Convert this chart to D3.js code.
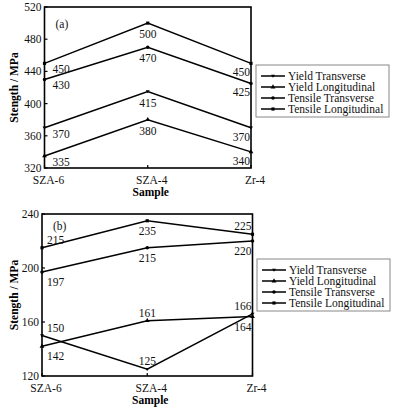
<!DOCTYPE html>
<html>
<head>
<meta charset="utf-8">
<script src="https://cdn.jsdelivr.net/npm/d3@7"></script>
<style>
  body { margin: 0; background: #fff; }
  svg { display: block; }
  .frame { fill: none; stroke: #000; stroke-width: 1.6; }
  .series { fill: none; stroke: #000; stroke-width: 1.5; }
  .tick-label { font-size: 11.5px; fill: #111; }
  .val { font-size: 11.5px; fill: #111; }
  .axis-title { font-size: 11.5px; font-weight: bold; fill: #000; }
  .legend-box { fill: #fff; stroke: #888; stroke-width: 1; }
  .legend-text { font-size: 11.5px; fill: #111; }
</style>
</head>
<body>
<div id="chart"></div>
<script>
// categories
const samples = ['SZA-6', 'SZA-4', 'Zr-4'];
const seriesNames = ['Yield Transverse', 'Yield Longitudinal', 'Tensile Transverse', 'Tensile Longitudinal'];
const seriesSymbols = ['triangleDown', 'triangle', 'circle', 'square'];

// panel (a) values, MPa
const aYieldT = [370, 415, 370];
const aYieldL = [335, 380, 340];
const aTensileT = [430, 470, 425];
const aTensileL = [450, 500, 450];
const aTicks = [320, 360, 400, 440, 480, 520];

// panel (b) values, MPa
const bYieldT = [150, 125, 166];
const bYieldL = [142, 161, 164];
const bTensileT = [197, 215, 220];
const bTensileL = [215, 235, 225];
const bTicks = [120, 160, 200, 240];

// where the value labels sit (above / below each point)
const aLabelSide = [
  ['b', 'b', 'b'], ['b', 'b', 'b'], ['b', 'b', 'b'], ['b', 'b', 'b']
];
const bLabelSide = [
  ['a', 'a', 'a'], ['b', 'a', 'b'], ['b', 'b', 'b'], ['a', 'b', 'a']
];

const W = 395, H = 412;
const svg = d3.select('#chart').append('svg')
  .attr('width', W).attr('height', H)
  .attr('font-family', "'Liberation Serif', 'Times New Roman', Times, serif");

// custom down triangle
const triDown = {
  draw(ctx, size) {
    const r = Math.sqrt(size) * 0.62;
    ctx.moveTo(-r, -r * 0.6);
    ctx.lineTo(r, -r * 0.6);
    ctx.lineTo(0, r * 0.9);
    ctx.closePath();
  }
};
const symbolFor = name => ({
  triangleDown: triDown,
  triangle: d3.symbolTriangle,
  circle: d3.symbolCircle,
  square: d3.symbolSquare,
}[name]);

function drawPanel(cfg) {
  const g = svg.append('g');
  const x = d3.scalePoint().domain(samples).range([cfg.left, cfg.right]).padding(0);
  const y = d3.scaleLinear().domain(d3.extent(cfg.ticks)).range([cfg.bottom, cfg.top]);

  // lines
  const line = d3.line().x((d, i) => x(samples[i])).y(d => y(d));
  cfg.series.forEach((vals, s) => {
    g.append('path').attr('class', 'series').attr('d', line(vals));
    g.selectAll(null).data(vals).join('path')
      .attr('transform', (d, i) => `translate(${x(samples[i])},${y(d)})`)
      .attr('d', d3.symbol().type(symbolFor(seriesSymbols[s])).size(10));

    g.selectAll(null).data(vals).join('text')
      .attr('class', 'val')
      .attr('x', (d, i) => x(samples[i]) + (i === 0 ? cfg.firstDx : i === 2 ? -1 : 0))
      .attr('y', (d, i) => y(d) + (cfg.sides[s][i] === 'a' ? -4 : cfg.belowDy[i]))
      .attr('text-anchor', (d, i) => (i === 0 ? 'start' : i === 2 ? 'end' : 'middle'))
      .text(d => d);
  });

  // frame
  g.append('rect').attr('class', 'frame')
    .attr('x', cfg.left).attr('y', cfg.top)
    .attr('width', cfg.right - cfg.left).attr('height', cfg.bottom - cfg.top);

  // y ticks (inward)
  g.selectAll(null).data(cfg.ticks).join('line')
    .attr('x1', cfg.left).attr('x2', cfg.left + 3)
    .attr('y1', d => y(d)).attr('y2', d => y(d))
    .attr('stroke', '#000').attr('stroke-width', 1.2);
  g.selectAll(null).data(cfg.ticks).join('text')
    .attr('class', 'tick-label')
    .attr('x', cfg.left - 3).attr('y', d => y(d) + 4)
    .attr('text-anchor', 'end')
    .text(d => d);

  // x ticks
  g.selectAll(null).data(samples).join('line')
    .attr('x1', d => x(d)).attr('x2', d => x(d))
    .attr('y1', cfg.bottom).attr('y2', cfg.bottom - 3)
    .attr('stroke', '#000').attr('stroke-width', 1.2);
  g.selectAll(null).data(samples).join('text')
    .attr('class', 'tick-label')
    .attr('x', d => x(d) + 4).attr('y', cfg.bottom + 16)
    .attr('text-anchor', 'middle')
    .text(d => d);

  g.append('text').attr('class', 'axis-title')
    .attr('x', (cfg.left + cfg.right) / 2 + 3).attr('y', cfg.bottom + 28)
    .attr('text-anchor', 'middle').text('Sample');

  g.append('text').attr('class', 'axis-title')
    .attr('transform', `translate(18,${(cfg.top + cfg.bottom) / 2}) rotate(-90)`)
    .attr('text-anchor', 'middle').text('Stength / MPa');

  g.append('text').attr('class', 'val')
    .attr('x', cfg.left + 11).attr('y', cfg.top + cfg.tagDy).text(cfg.tag);

  // legend
  const lg = g.append('g').attr('transform', `translate(${cfg.legendX},${cfg.legendY})`);
  lg.append('rect').attr('class', 'legend-box')
    .attr('width', 133).attr('height', 52);
  seriesNames.forEach((name, i) => {
    const ly = 11 + i * 11;
    lg.append('line').attr('x1', 5).attr('x2', 29).attr('y1', ly).attr('y2', ly)
      .attr('stroke', '#000').attr('stroke-width', 1.5);
    lg.append('path').attr('transform', `translate(17,${ly})`)
      .attr('d', d3.symbol().type(symbolFor(seriesSymbols[i])).size(10));
    lg.append('text').attr('class', 'legend-text')
      .attr('x', 32).attr('y', ly + 4).text(name);
  });
}

drawPanel({
  tag: '(a)', tagDy: 21, left: 44.5, right: 251, top: 7, bottom: 168,
  ticks: aTicks, series: [aYieldT, aYieldL, aTensileT, aTensileL],
  sides: aLabelSide, belowDy: [10, 15, 13], firstDx: 8, legendX: 256, legendY: 65,
});

drawPanel({
  tag: '(b)', tagDy: 16, left: 42, right: 252.5, top: 214, bottom: 376,
  ticks: bTicks, series: [bYieldT, bYieldL, bTensileT, bTensileL],
  sides: bLabelSide, belowDy: [14, 14, 14], firstDx: 5, legendX: 257, legendY: 259,
});
</script>
</body>
</html>
